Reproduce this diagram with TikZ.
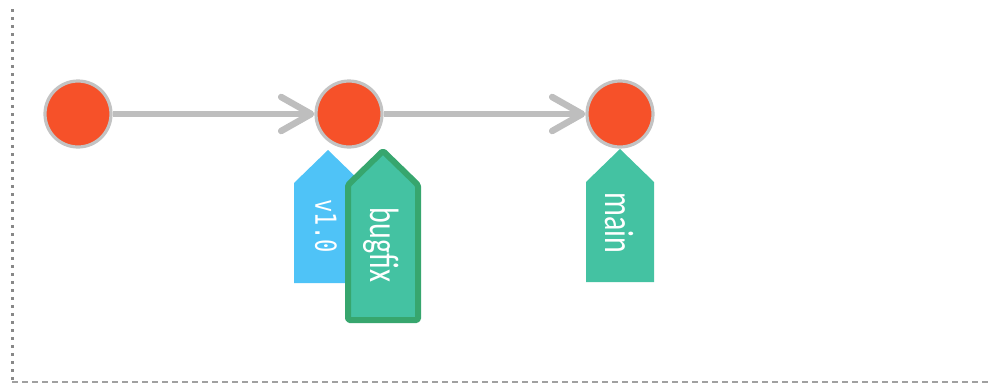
\documentclass[tikz,border=0pt]{standalone}
\usepackage{fontspec}
\setmainfont{Carlito}
\newfontfamily\monofam{DejaVu Sans Mono}
\usetikzlibrary{arrows.meta}
\definecolor{commitred}{HTML}{F65129}
\definecolor{commitedge}{HTML}{C3C3C3}
\definecolor{arrowgray}{HTML}{BEBEBE}
\definecolor{tagblue}{HTML}{4FC3F7}
\definecolor{branchgreen}{HTML}{44C2A2}
\definecolor{headedge}{HTML}{37A66E}
\definecolor{framegray}{HTML}{888888}
\tikzset{
  commit/.style={circle, minimum size=66pt, inner sep=0pt, fill=commitred, draw=commitedge, line width=3.2pt},
  parentarrow/.style={draw=arrowgray, line width=6.5pt, -{Straight Barb[length=30pt,width=34pt,line cap=round,line join=round]}},
  taglabel/.style={text=white, rotate=-90, inner sep=0pt, font=\monofam\fontsize{29}{29}\selectfont},
  branchlabel/.style={text=white, rotate=-90, inner sep=0pt, font=\fontsize{41}{41}\selectfont},
}
\begin{document}
\begin{tikzpicture}[x=1pt,y=-1pt]
\useasboundingbox (0,0) rectangle (991,384);
% frame
\draw[framegray, line width=3pt, dash pattern=on 3pt off 5pt] (12,9) -- (12,381);
\draw[framegray!80, line width=1.8pt, dash pattern=on 6pt off 4pt] (12,382) -- (991,382);
% commits
\node[commit] (c1) at (78,114) {};
\node[commit] (c2) at (349,114) {};
\node[commit] (c3) at (620,114) {};
\draw[parentarrow] (c1) -- (c2);
\draw[parentarrow] (c2) -- (c3);
% tag v1.0
\fill[tagblue] (294,183) -- (328,150) -- (362,183) -- (362,283) -- (294,283) -- cycle;
\node[taglabel] (tv) at (326,226) {\scalebox{0.76}[1]{v1.0}};
% branch bugfix (HEAD)
\filldraw[fill=branchgreen, draw=headedge, line width=6pt, line join=round, rounded corners=1.5pt] (348,185) -- (383,151) -- (418,185) -- (418,320) -- (348,320) -- cycle;
\node[branchlabel] (bb) at (381,245) {\scalebox{0.73}[1]{bugfix}};
% branch main
\fill[branchgreen] (586,182) -- (620,149) -- (654,182) -- (654,282) -- (586,282) -- cycle;
\node[branchlabel] (bm) at (619,223) {\scalebox{0.73}[1]{main}};
\end{tikzpicture}
\end{document}
